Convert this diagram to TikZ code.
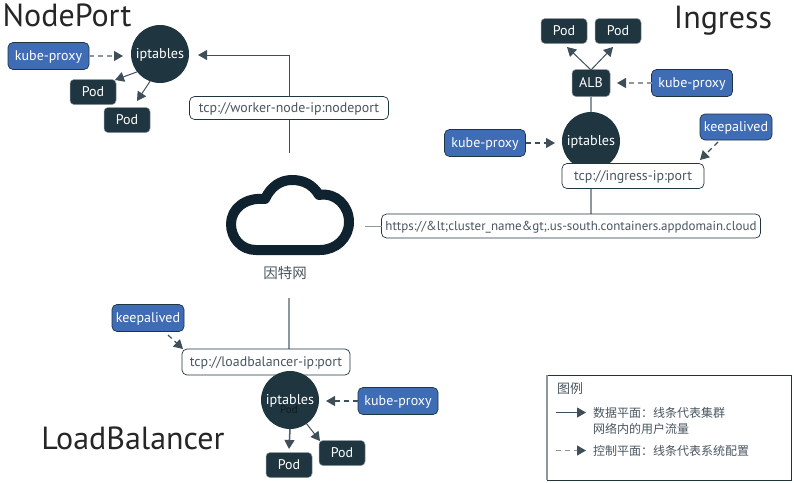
\documentclass[tikz,border=0pt]{standalone}
\usepackage{fontspec}
\setmainfont{PT Sans}
\newfontfamily\cjk{Noto Sans CJK SC}
\usetikzlibrary{arrows.meta,positioning}
\definecolor{dk}{HTML}{1F3540}
\definecolor{blu}{HTML}{3E6DB5}
\definecolor{lin}{HTML}{3F4F5A}
\definecolor{gry}{HTML}{8C979E}
\definecolor{txt}{HTML}{4A5660}
\definecolor{cloudc}{HTML}{0F2230}
\tikzset{
  x=1pt,y=-1pt,
  every node/.style={inner sep=0pt,outer sep=0pt},
  tb/.style={text height=10pt,text depth=2pt},
  circ/.style={tb,circle,fill=dk,minimum size=58pt,text=white,font=\fontsize{14.2}{14}\selectfont},
  podbox/.style={tb,rectangle,rounded corners=4pt,fill=dk,draw=gry,line width=.5pt,text=white,minimum width=46pt,minimum height=25pt,font=\fontsize{14}{14}\selectfont},
  bluebox/.style={tb,rectangle,rounded corners=5pt,fill=blu,draw=dk,line width=.7pt,text=white,minimum height=27pt,font=\fontsize{14}{14}\selectfont},
  urlbox/.style={tb,rectangle,rounded corners=5pt,fill=white,draw=dk,line width=.7pt,text=txt,font=\fontsize{13.9}{14}\selectfont},
  title/.style={text=black!85,font=\fontsize{32}{33}\selectfont},
  solidarrow/.style={draw=lin,line width=1pt,-{Triangle[length=9pt,width=10pt,color=lin]}},
  dasharrow/.style={draw=lin,line width=1.2pt,dash pattern=on 5pt off 4pt,-{Triangle[length=9pt,width=10pt,color=lin]}},
  plain/.style={draw=lin,line width=1pt},
}
\begin{document}
\begin{tikzpicture}
\useasboundingbox (0,0) rectangle (794,482);
% Titles
\node[title,anchor=center] (tnp) at (67,15) {NodePort};
\node[title,anchor=center] (tin) at (723,21) {Ingress};
\node[title,anchor=center] (tlb) at (133,438) {LoadBalancer};
% Cloud
\draw[cloudc,line width=10pt,line join=round] (256,250)
  .. controls (241,250) and (231,238) .. (231,224)
  .. controls (231,209) and (245,197) .. (265,199)
  .. controls (271,186) and (281,180) .. (292,180)
  .. controls (304,180) and (313,185) .. (319,195)
  .. controls (336,192) and (349,206) .. (349,222)
  .. controls (349,238) and (336,250) .. (320,250) -- cycle;
\node[text=txt,font=\cjk\fontsize{14.5}{14.5}\selectfont] (inet) at (285,273) {因特网};
\coordinate (cloudtop) at (289,153);
\coordinate (cloudbot) at (289,298);
\coordinate (cloudright) at (365,226);
% NodePort
\node[circ] (ipa) at (160,54) {iptables};
\node[bluebox,minimum width=81pt] (kpa) at (48.5,56) {kube-proxy};
\node[podbox] (poda1) at (93,92) {Pod};
\node[podbox] (poda2) at (127,120) {Pod};
\node[urlbox,minimum width=199pt,minimum height=23pt] (urla) at (289,108) {tcp://worker-node-ip:nodeport};
\coordinate (ipaE) at (198,55);
\coordinate (kpaT) at (123,56);
\draw[dasharrow,draw=gry] (kpa.east) -- (kpaT);
\draw[solidarrow] (ipa.218) -- (115,80);
\draw[solidarrow] (ipa.250) -- (137,101);
\draw[plain] (cloudtop) -- (urla.south);
\draw[solidarrow] (urla.north) |- (ipaE);
% Ingress
\node[podbox] (podb1) at (564,31) {Pod};
\node[podbox] (podb2) at (618,31) {Pod};
\node[podbox,minimum width=38pt,minimum height=27pt] (alb) at (591,83) {ALB};
\node[bluebox,minimum width=81pt] (kpb1) at (692,83) {kube-proxy};
\draw[draw=gry,line width=2pt] (alb.south) -- (591,125);
\node[circ] (ipb) at (591,141) {iptables};
\node[bluebox,minimum width=81pt] (kpb2) at (485,143) {kube-proxy};
\node[bluebox,minimum width=72pt,minimum height=26pt] (kab) at (736,127) {keepalived};
\draw[draw=gry,line width=1.5pt] (591,186) -- (591,216);
\node[urlbox,minimum width=142pt,minimum height=25pt] (urlb) at (633,176) {tcp://ingress-ip:port};
\node[urlbox,minimum width=379pt,minimum height=24pt,font=\fontsize{13}{14}\selectfont] (urlc) at (571,226) {https://\&lt;cluster\_name\&gt;.us-south.containers.appdomain.cloud};
\coordinate (albT) at (591,70);
\coordinate (kaT) at (700,160);
\coordinate (ipbL) at (555,143);
\coordinate (albR) at (617,83);
\draw[solidarrow] (albT) -- (567,47);
\draw[solidarrow] (albT) -- (613,47);
\draw[dasharrow,draw=gry] (kpb1.west) -- (albR);
\draw[dasharrow] (kpb2.east) -- (ipbL);
\draw[dasharrow] (718,142) -- (kaT);
\draw[draw=gry,line width=1pt] (cloudright) -- (urlc.west);
% LoadBalancer
\node[bluebox,minimum width=72pt] (kac) at (148,318) {keepalived};
\draw[draw=gry,line width=1.5pt] (cloudbot) -- (289,355);
\node[urlbox,minimum width=168pt,minimum height=26pt] (urld) at (266,362) {tcp://loadbalancer-ip:port};
\node[circ] (ipc) at (290,400) {iptables};
\node[text=black!50!dk,font=\fontsize{11}{11}\selectfont] (podhide) at (289,410) {Pod};
\node[bluebox,minimum width=80pt] (kpc) at (398,401) {kube-proxy};
\node[podbox] (podc1) at (289,465) {Pod};
\node[podbox] (podc2) at (342,453) {Pod};
\coordinate (urldTL) at (183,349);
\coordinate (ipcR) at (326,401);
\draw[dasharrow] (168,335) -- (urldTL);
\draw[dasharrow] (kpc.west) -- (ipcR);
\draw[solidarrow,draw=lin!80!gry,line width=1.5pt] (ipc.south) -- (289,449);
\draw[solidarrow] (ipc.-55) -- (320,441);
% Legend
\node[draw=dk,line width=1pt,minimum width=244pt,minimum height=105pt,fill=white] (leg) at (669,427.5) {};
\draw[gry,line width=2pt] (leg.north west) -- (leg.south west);
\node[anchor=west,text=txt,font=\cjk\fontsize{13}{13}\selectfont] (legt) at (557,389) {图例};
\coordinate (l1a) at (556,412.5);
\coordinate (l1b) at (586,412.5);
\coordinate (l2a) at (556,450.5);
\coordinate (l2b) at (586,450.5);
\draw[solidarrow] (l1a) -- (l1b);
\draw[dasharrow,draw=gry] (l2a) -- (l2b);
\node[anchor=west,text=txt,font=\cjk\fontsize{12}{12}\selectfont] (leg1) at (593,413) {数据平面：线条代表集群};
\node[anchor=west,text=txt,font=\cjk\fontsize{12}{12}\selectfont] (leg1b) at (593,429) {网络内的用户流量};
\node[anchor=west,text=txt,font=\cjk\fontsize{12}{12}\selectfont] (leg2) at (593,451) {控制平面：线条代表系统配置};
\end{tikzpicture}
\end{document}
